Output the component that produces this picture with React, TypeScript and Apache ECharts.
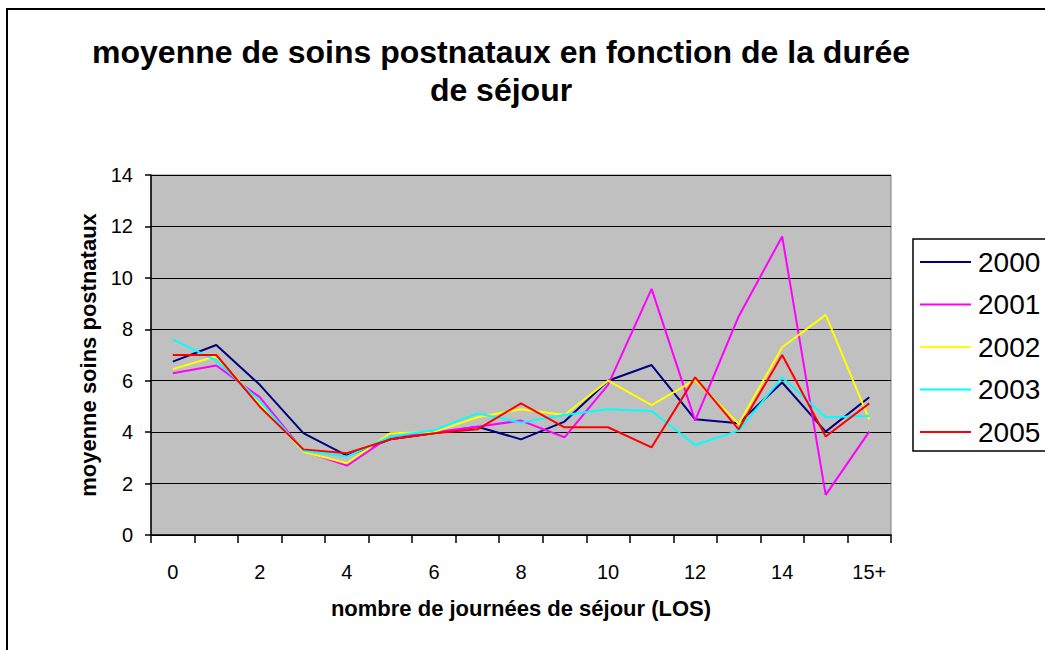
import React, { useEffect, useRef } from "react";
import * as echarts from "echarts";

const categories = ["0", "1", "2", "3", "4", "5", "6", "7", "8", "9", "10", "11", "12", "13", "14", "15", "15+"];
const yearNames = ["2000", "2001", "2002", "2003", "2005"];
const s2000 = [6.74, 7.39, 5.84, 3.96, 3.09, 3.72, 3.96, 4.21, 3.72, 4.41, 6.0, 6.61, 4.5, 4.35, 5.93, 4.02, 5.36];
const s2001 = [6.29, 6.59, 5.36, 3.27, 2.7, 3.83, 4.0, 4.21, 4.45, 3.8, 5.84, 9.57, 4.45, 8.5, 11.61, 1.56, 4.02];
const s2002 = [6.45, 6.95, 5.12, 3.24, 2.79, 3.96, 4.0, 4.58, 4.89, 4.67, 6.0, 5.05, 6.03, 4.32, 7.3, 8.56, 4.5];
const s2003 = [7.61, 6.78, 5.2, 3.28, 3.05, 3.83, 4.07, 4.73, 4.37, 4.67, 4.89, 4.82, 3.5, 4.06, 6.13, 4.58, 4.63];
const s2005 = [7.0, 7.0, 4.99, 3.33, 3.18, 3.72, 3.96, 4.11, 5.12, 4.19, 4.19, 3.41, 6.13, 4.11, 7.0, 3.83, 5.12];
const seriesColors = ["#000080", "#FF00FF", "#FFFF00", "#00FFFF", "#FF0000"];

const titleText = "moyenne de soins postnataux en fonction de la durée\nde séjour";
const xTitle = "nombre de journées de séjour (LOS)";
const yTitle = "moyenne soins postnataux";

const FONT = "'Liberation Sans', Arial, sans-serif";

export default function App() {
  const ref = useRef<HTMLDivElement>(null);
  useEffect(() => {
    document.body.style.margin = "0";
    const chart = echarts.init(ref.current!, null, { renderer: "svg" });
    const allData = [s2000, s2001, s2002, s2003, s2005];
    chart.setOption({
      animation: false,
      backgroundColor: "#ffffff",
      textStyle: { fontFamily: FONT },
      graphic: [
        {
          type: "rect",
          shape: { x: 7, y: 9, width: 1200, height: 800 },
          style: { fill: "none", stroke: "#000", lineWidth: 2 },
          silent: true,
        },
        {
          type: "rect",
          shape: { x: 913, y: 239, width: 300, height: 212 },
          style: { fill: "none", stroke: "#000", lineWidth: 1.5 },
          silent: true,
        },
        {
          type: "text",
          x: 501,
          y: 71,
          style: {
            text: titleText,
            fontFamily: FONT,
            fontSize: 32,
            fontWeight: "bold",
            lineHeight: 38,
            fill: "#000",
            align: "center",
            verticalAlign: "middle",
          },
          silent: true,
        },
      ],
      legend: {
        orient: "vertical",
        left: 920,
        top: 248,
        padding: 0,
        itemWidth: 51,
        itemHeight: 28,
        itemGap: 14.5,
        icon: "path://M0,13 L51,13 L51,15 L0,15 Z",
        textStyle: { fontSize: 28, lineHeight: 28, color: "#000", fontFamily: FONT, padding: [0, 0, 0, 2] },
        data: yearNames,
      },
      grid: {
        left: 151,
        right: 154,
        top: 175,
        bottom: 115,
        show: true,
        backgroundColor: "#C0C0C0",
        borderColor: "#808080",
        borderWidth: 1,
      },
      xAxis: {
        type: "category",
        data: categories,
        boundaryGap: true,
        name: xTitle,
        nameLocation: "middle",
        nameGap: 62,
        nameTextStyle: { fontSize: 22, fontWeight: "bold", color: "#000", fontFamily: FONT },
        axisLine: { lineStyle: { color: "#000", width: 1.5 } },
        axisTick: { show: true, interval: 0, length: 8, lineStyle: { color: "#000", width: 1.5 } },
        axisLabel: { interval: 1, fontSize: 20, color: "#000", margin: 27, fontFamily: FONT },
        splitLine: { show: false },
      },
      yAxis: {
        type: "value",
        min: 0,
        max: 14,
        interval: 2,
        name: yTitle,
        nameLocation: "middle",
        nameGap: 48,
        nameTextStyle: { fontSize: 22, fontWeight: "bold", color: "#000", fontFamily: FONT },
        axisLine: { show: true, lineStyle: { color: "#000", width: 1.5 } },
        axisTick: { show: true, length: 6, lineStyle: { color: "#000", width: 1.5 } },
        axisLabel: { fontSize: 20, color: "#000", margin: 18, fontFamily: FONT },
        splitLine: { show: true, lineStyle: { color: "#000", width: 1.2 } },
      },
      series: yearNames.map((name, i) => ({
        name,
        type: "line",
        data: allData[i],
        symbol: "none",
        color: seriesColors[i],
        lineStyle: { color: seriesColors[i], width: 2 },
      })),
    });
    return () => chart.dispose();
  }, []);
  return <div ref={ref} style={{ width: 1045, height: 650 }} />;
}
